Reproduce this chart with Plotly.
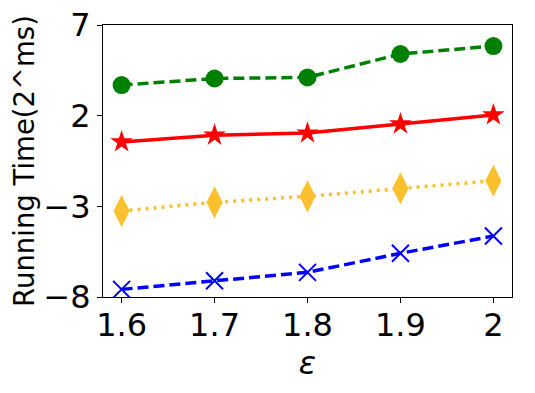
import plotly.graph_objects as go

eps = [1.6, 1.7, 1.8, 1.9, 2.0]
green_vals = [3.69, 4.05, 4.11, 5.40, 5.84]
red_vals = [0.55, 0.92, 1.04, 1.54, 2.04]
yellow_vals = [-3.26, -2.78, -2.45, -2.01, -1.59]
blue_vals = [-7.58, -7.10, -6.64, -5.59, -4.64]

x_ticks = [1.6, 1.7, 1.8, 1.9, 2.0]
x_ticktext = ["1.6", "1.7", "1.8", "1.9", "2"]
y_ticks = [-8, -3, 2, 7]

fig = go.Figure()
fig.add_trace(go.Scatter(x=eps, y=green_vals, mode="lines+markers",
                         line=dict(color="#008000", width=3.5, dash="11px,5px"),
                         marker=dict(symbol="circle", size=18, color="#008000")))
fig.add_trace(go.Scatter(x=eps, y=red_vals, mode="lines+markers",
                         line=dict(color="#ff0000", width=3.5),
                         marker=dict(symbol="star", size=17, color="#ff0000")))
fig.add_trace(go.Scatter(x=eps, y=yellow_vals, mode="lines+markers",
                         line=dict(color="#fbc02d", width=3.5, dash="3px,5px"),
                         marker=dict(symbol="diamond-tall", size=23, color="#fbc02d")))
fig.add_trace(go.Scatter(x=eps, y=blue_vals, mode="lines+markers",
                         line=dict(color="#0000ff", width=3.5, dash="11px,5px"),
                         marker=dict(symbol="x-thin", size=17, color="#0000ff",
                                     line=dict(color="#0000ff", width=2))))

# page has an 8px body margin, so the figure is shrunk to fit the window
fig.update_layout(
    width=519, height=377,
    margin=dict(l=95, r=15, t=17, b=88),
    paper_bgcolor="white", plot_bgcolor="white",
    showlegend=False,
    font=dict(family="DejaVu Sans", color="black"),
)
fig.update_xaxes(range=[1.58, 2.02], tickvals=x_ticks, ticktext=x_ticktext,
                 automargin=False, ticklabelstandoff=-5, ticklabeloverflow="allow",
                 showgrid=False, zeroline=False, showline=True, linecolor="black",
                 linewidth=1, mirror=True, ticks="outside", ticklen=5,
                 tickcolor="black", tickfont=dict(size=32),
                 title=dict(text="<i>ε</i>", font=dict(size=32), standoff=0))
fig.update_yaxes(range=[-8, 7], tickvals=y_ticks,
                 automargin=False, ticklabeloverflow="allow",
                 showgrid=False, zeroline=False, showline=True, linecolor="black",
                 linewidth=1, mirror=True, ticks="outside", ticklen=5,
                 tickcolor="black", tickfont=dict(size=32),
                 title=dict(text="Running Time(2^ms)", font=dict(size=27.5), standoff=6))

fig.write_html("out.html")
